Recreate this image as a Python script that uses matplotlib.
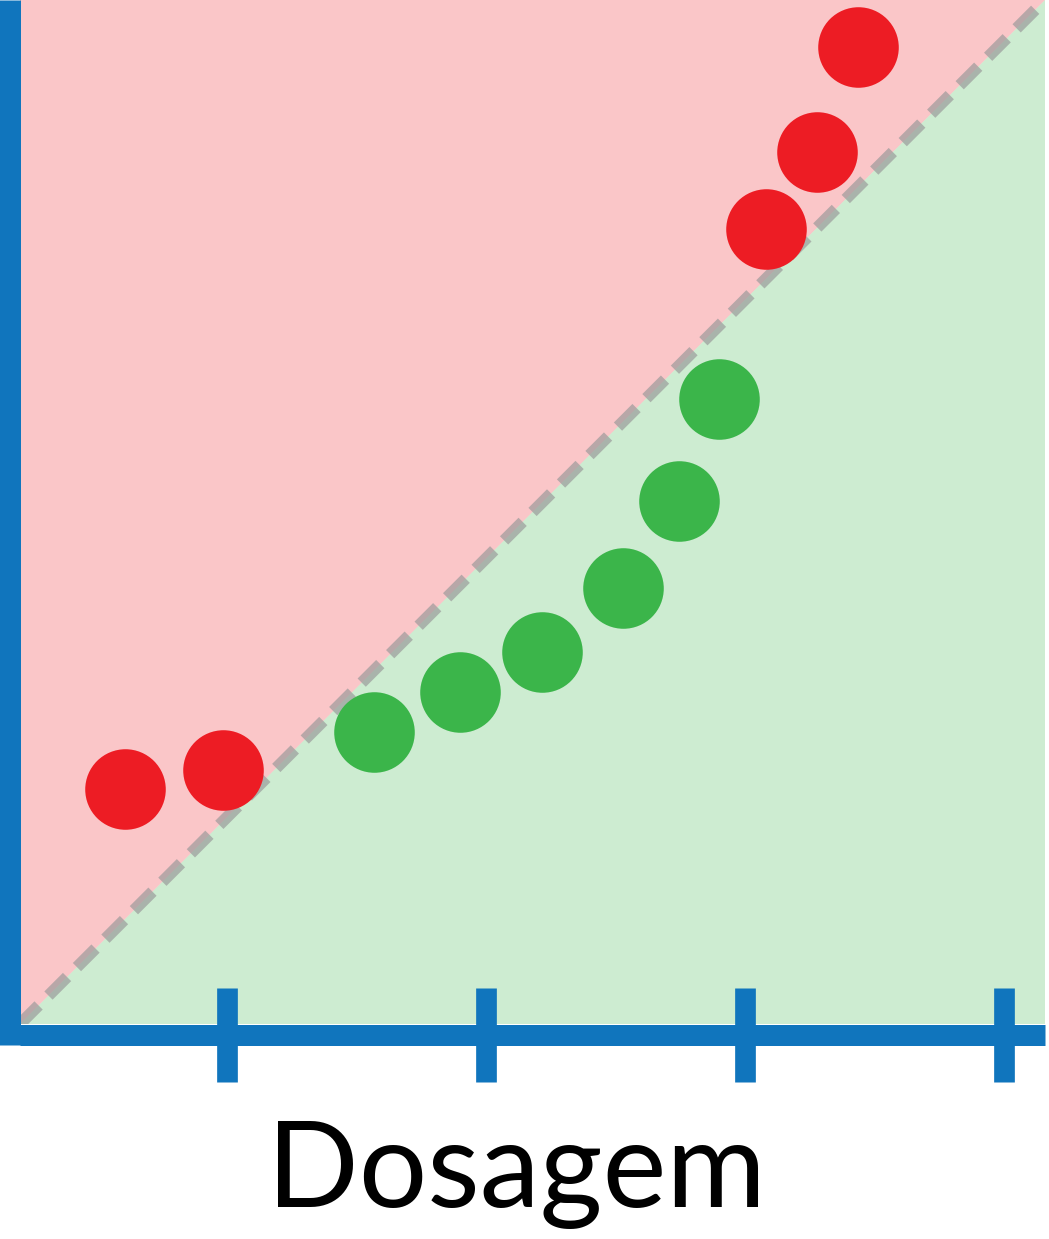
import matplotlib
matplotlib.use("Agg")
import matplotlib.pyplot as plt

# ---- data ----
x_label = "Dosagem"
tick_positions = [1, 2, 3, 4]

red_x = [0.607, 0.986, 3.081, 3.280, 3.436]
red_y = [0.907, 0.981, 3.071, 3.367, 3.775]

green_x = [1.569, 1.901, 2.218, 2.530, 2.745, 2.900]
green_y = [1.127, 1.281, 1.438, 1.684, 2.021, 2.413]

x_limits = (0.2005, 4.159)
y_limits = (0.0, 3.955)

# ---- style ----
BLUE = "#1075bd"
RED = "#ed1c24"
GREEN = "#3bb54a"

W, H = 1049, 1239
fig = plt.figure(figsize=(W / 100, H / 100), dpi=100)
ax = fig.add_axes([20 / W, (H - 1024) / H, 1025 / W, 1024 / H])
ax.set_xlim(*x_limits)
ax.set_ylim(*y_limits)
ax.patch.set_alpha(0)

# background regions split by the diagonal
ax.fill([0, 0, 1], [0, 1, 1], transform=ax.transAxes, color=RED, alpha=0.25,
        lw=0, zorder=0)
ax.fill([0, 1, 1], [0, 1, 0], transform=ax.transAxes, color=GREEN, alpha=0.25,
        lw=0, zorder=0)

# dashed diagonal
ax.plot([0, 1], [0, 1], transform=ax.transAxes, color="#999999", alpha=0.68,
        lw=8.4, linestyle=(0, (2.25, 1.2)), dash_capstyle="butt", zorder=1)

# points
ax.plot(red_x, red_y, "o", ms=58, color=RED, mec="none", zorder=3, clip_on=False)
ax.plot(green_x, green_y, "o", ms=58, color=GREEN, mec="none", zorder=3, clip_on=False)

# spines
for s in ["top", "right"]:
    ax.spines[s].set_visible(False)
lw_pt = 21 * 72 / 100
ax.spines["left"].set_position(("outward", 10 * 72 / 100))
ax.spines["bottom"].set_position(("outward", 10.5 * 72 / 100))
for s in ["left", "bottom"]:
    ax.spines[s].set_linewidth(lw_pt)
    ax.spines[s].set_color(BLUE)
    ax.spines[s].set_capstyle("butt")
    ax.spines[s].set_zorder(4)
ax.spines["left"].set_bounds(y_limits[0] - 21 / 258.9, y_limits[1])

ax.set_xticks(tick_positions)
ax.set_xticklabels([])
ax.set_yticks([])
ax.tick_params(axis="x", direction="inout", length=94 * 72 / 100,
               width=20.7 * 72 / 100, color=BLUE)

fig.text(516 / W, (H - 1207) / H, x_label, ha="center", va="baseline",
         fontsize=87, family=["Lato", "DejaVu Sans"], color="black")

fig.savefig("out.png", dpi=100)
